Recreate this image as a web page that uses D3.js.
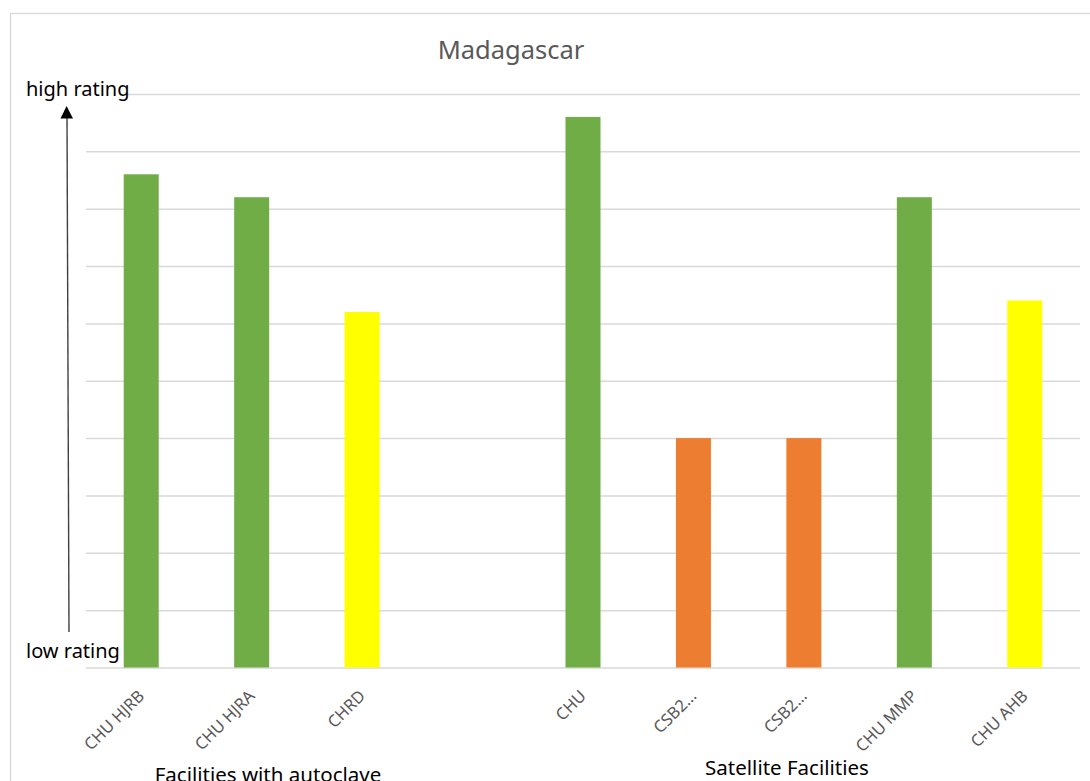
<!DOCTYPE html>
<html>
<head>
<meta charset="utf-8">
<script src="https://cdn.jsdelivr.net/npm/d3@7"></script>
<style>
  html, body { margin: 0; padding: 0; background: #fff; }
  svg { display: block; }
  text { font-family: "Noto Sans", "Open Sans", sans-serif; }
</style>
</head>
<body>
<svg id="chart" width="1090" height="781"></svg>
<script>
// ---- data ----
const categories = ["CHU HJRB", "CHU HJRA", "CHRD", "", "CHU", "CSB2…", "CSB2…", "CHU MMP", "CHU AHB"];
const values     = [8.6, 8.2, 6.2, null, 9.6, 4.0, 4.0, 8.2, 6.4];
const ratings    = ["high", "high", "medium", null, "high", "low", "low", "high", "medium"];
const ratingLevels = ["high", "medium", "low"];
const groupNames = ["Facilities with autoclave", "Satellite Facilities"];
const yTicks = [0, 1, 2, 3, 4, 5, 6, 7, 8, 9, 10];
const title = "Madagascar";
const axisTopLabel = "high rating";
const axisBottomLabel = "low rating";

// ---- layout ----
const W = 1090, H = 781;
const plot = { left: 86, right: 1080, top: 94, bottom: 667.5 };
const svg = d3.select("#chart");

const color = d3.scaleOrdinal().domain(ratingLevels).range(["#70AD47", "#FFFF00", "#ED7D31"]);

const x = d3.scaleBand()
  .domain(d3.range(categories.length))
  .range([plot.left, plot.right])
  .paddingInner(0.683)
  .paddingOuter(0.683 / 2);

const y = d3.scaleLinear().domain([0, 10]).range([plot.bottom, plot.top]);

// chart border
svg.append("rect")
  .attr("x", 10.5).attr("y", 13.5)
  .attr("width", 1200).attr("height", 900)
  .attr("fill", "#fff").attr("stroke", "#d9d9d9").attr("stroke-width", 1.3);

// gridlines
const grid = svg.append("g")
  .attr("transform", `translate(${plot.left},0)`)
  .call(d3.axisLeft(y).tickValues(yTicks).tickSize(-(plot.right - plot.left)).tickFormat(""));
grid.select(".domain").remove();
grid.selectAll(".tick line").attr("stroke", "#d9d9d9").attr("stroke-width", 1.5);

// title
svg.append("text")
  .attr("x", 511).attr("y", 59)
  .attr("text-anchor", "middle")
  .attr("font-size", 25.5)
  .attr("fill", "#595959")
  .text(title);

// bars
svg.append("g").selectAll("rect")
  .data(values.map((v, i) => ({ v, i, r: ratings[i] })).filter(d => d.v != null))
  .join("rect")
  .attr("x", d => x(d.i))
  .attr("width", x.bandwidth())
  .attr("y", d => y(d.v))
  .attr("height", d => y(0) - y(d.v))
  .attr("fill", d => color(d.r));

// category labels (rotated)
svg.append("g").selectAll("text")
  .data(categories.map((c, i) => ({ c, i })).filter(d => d.c !== ""))
  .join("text")
  .attr("transform", d => `translate(${x(d.i) + x.bandwidth() / 2},693) rotate(-45)`)
  .attr("text-anchor", "end")
  .attr("dy", "0.35em")
  .attr("font-size", 16.5)
  .attr("fill", "#595959")
  .text(d => d.c);

// group labels
const groupX = [268, 787];
const groupY = [782, 775];
svg.append("g").selectAll("text")
  .data(groupNames)
  .join("text")
  .attr("x", (d, i) => groupX[i])
  .attr("y", (d, i) => groupY[i])
  .attr("text-anchor", "middle")
  .attr("font-size", 20.5)
  .attr("fill", "#000")
  .text(d => d);

// rating arrow
svg.append("line")
  .attr("x1", 69).attr("y1", 632)
  .attr("x2", 67).attr("y2", 116)
  .attr("stroke", "#404040").attr("stroke-width", 1.4);
svg.append("path")
  .attr("d", "M66.6,106 L60.5,118.5 L73,118.5 Z")
  .attr("fill", "#000");

// high/low rating labels with white box (covers top gridline)
svg.append("rect")
  .attr("x", 22).attr("y", 76).attr("width", 106).attr("height", 27)
  .attr("fill", "#fff");
svg.append("text")
  .attr("x", 26).attr("y", 96)
  .attr("font-size", 20)
  .attr("fill", "#000")
  .text(axisTopLabel);
svg.append("text")
  .attr("x", 26).attr("y", 658)
  .attr("font-size", 20)
  .attr("fill", "#000")
  .text(axisBottomLabel);
</script>
</body>
</html>
